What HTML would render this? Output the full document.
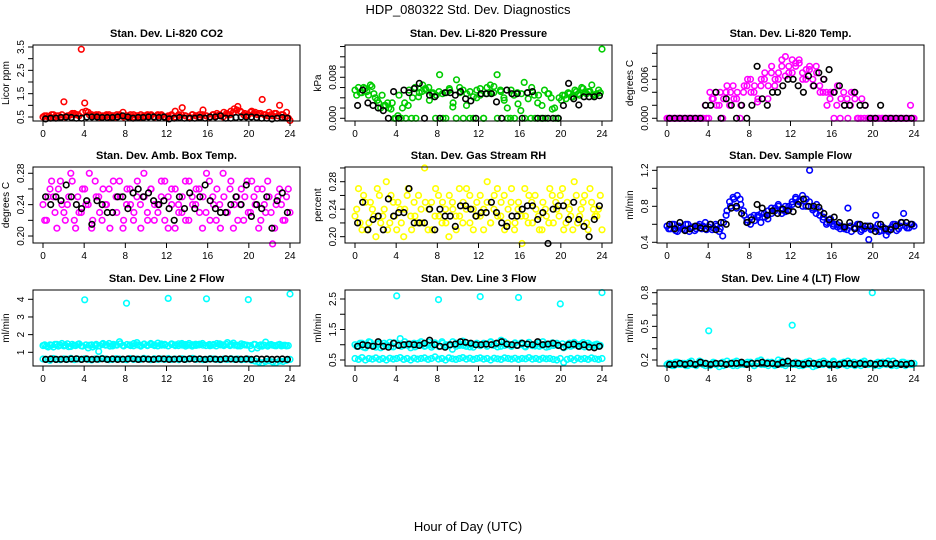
<!DOCTYPE html>
<html><head><meta charset="utf-8">
<style>
html,body{margin:0;padding:0;background:#fff;}
svg{display:block;font-family:"Liberation Sans",Arial,sans-serif;}
</style></head>
<body>
<svg id="chart" width="936" height="540" viewBox="0 0 936 540">
<text x="468" y="14" text-anchor="middle" font-size="13">HDP_080322  Std. Dev. Diagnostics</text>
<text x="468" y="531" text-anchor="middle" font-size="13">Hour of Day (UTC)</text>
<g id="panels"></g>
</svg>
<script>
// ---- data ----
const xTicks = [0,4,8,12,16,20,24];
const co2Red = [0.5,0.55,0.5,0.6,0.55,0.5,1.15,0.55,0.6,0.65,0.6,3.4,1.1,0.7,0.6,0.55,0.6,0.5,0.55,0.6,0.55,0.5,0.6,0.7,0.55,0.5,0.6,0.55,0.5,0.55,0.6,0.55,0.5,0.6,0.55,0.5,0.5,0.55,0.75,0.6,0.9,0.55,0.5,0.6,0.55,0.6,0.8,0.55,0.5,0.6,0.65,0.55,0.7,0.6,0.75,0.85,0.95,0.7,0.65,0.6,0.75,0.7,0.65,1.25,0.6,0.7,0.55,0.65,1.0,0.6,0.7,0.35];
const co2Red2 = [.55,.5,.6,.5,.55,.6,.5,.55,.65,.6,.55,.7,.75,.6,.55,.6,.5,.55,.6,.5,.55,.6,.55,.5,.55,.6,.5,.55,.6,.5,.55,.6,.5,.55,.6,.5,.55,.6,.5,.55,.6,.55,.5,.6,.55,.5,.6,.55,.5,.6,.55,.6,.5,.65,.6,.7,.8,.75,.6,.55,.7,.65,.6,.65,.6,.55,.6,.65,.55,.6,.5,.45];
const co2Black = [.42,.45,.45,.48,.5,.48,.45,.45,.5,.5,.5,.48,.48,.48,.5,.55,.5,.45,.48,.48,.5,.5,.48,.5,.42,.45,.48,.45,.45,.45,.48,.45,.5,.5,.55,.45,.45,.48,.5,.5,.5,.48,.45,.45,.42,.45,.48,.45];
const presGreen = [.0055,.006,.005,.0058,.0045,.0062,.004,.003,.0045,.0025,.002,.003,0,.0045,.002,0,.0055,.004,0,.005,.0065,.0055,.0035,.005,.0045,.0085,0,.005,.0055,.003,.0075,.005,0,.0048,.0052,0,.004,.0045,0,.006,.0065,.005,.0085,.0055,.004,.002,0,.0045,.005,.0015,.007,.005,0,.0045,.003,0,.0055,.0048,.004,.002,0,.0035,.0045,.005,.0042,.0055,.0048,.006,.005,.0052,.0065,.0046,.0055,.0135];
const presGreen2 = [.0045,.005,.006,.0052,.0065,.0048,.0035,.002,.0025,.003,.0018,0,.0005,0,.003,.0025,0,.006,.0042,.0052,.0058,.006,.0048,0,.0052,.0048,0,.0058,.0022,0,.006,.0055,.0025,0,.0042,.0055,.0058,0,.0048,.005,.0062,0,.0052,.0035,0,.0055,0,.0028,.0048,0,.0038,.006,0,.0045,.0025,0,.0048,.0018,0,.004,.0045,.0038,.0048,.0042,.0052,.0045,.0058,.0048,.0052,.0045,.0048,.005];
const presBlack = [.0025,.0055,.003,.0025,.002,.0015,0,.0052,0,.0055,.005,.0058,.0068,0,.0045,.0042,0,.005,.005,.0045,.0052,.0038,.0034,0,.0048,.0048,.0048,.0032,0,.0055,.0048,.0048,0,.005,.0052,0,0,0,0,0,.0025,.0068,.0038,.0026,.0042,.0042,.0042,.0044];
const tempMag = [0,0,0,0,0,0,0,0,0,0,0,.002,0,.003,.004,.002,0,.004,.002,.005,.003,0,.004,.005,.006,.004,.0025,.005,.006,.003,.007,.005,.006,.008,.0065,.007,.009,.008,.0085,.006,.0075,.008,.005,.007,.004,.006,.002,.004,0,.005,.003,.002,0,.004,.003,0,.003,.002,0,0,0,0,0,0,0,0,0,0,0,0,.002,0];
const tempMag2 = [0,0,0,0,0,0,0,0,0,0,0,0,.004,.003,.002,.004,.003,.005,.004,.003,.004,.002,.005,.006,.004,.005,.003,.006,.007,.005,.008,.006,.007,.009,.0095,.008,.007,.0085,.009,.007,.006,.0075,.006,.008,.005,.004,.004,.003,.004,.002,0,.004,.003,.002,.004,0,0,0,0,0,0,0,0,0,0,0,0,0,0,0,0,0];
const tempBlack = [0,0,0,0,0,0,0,.002,.002,.004,0,.003,.002,0,.002,0,.002,.008,.003,.002,.004,.004,.005,.006,.006,.005,.004,.0065,.005,.007,.006,.0075,.004,.005,.002,.002,.004,.002,.002,0,0,.002,0,0,0,0,0,0];
const ambMag = [.24,.22,.26,.25,.21,.27,.23,.24,.28,.22,.25,.23,.26,.24,.21,.27,.25,.22,.24,.26,.23,.25,.27,.21,.24,.26,.22,.25,.24,.28,.23,.26,.22,.24,.25,.27,.21,.24,.26,.23,.25,.22,.27,.24,.26,.23,.25,.28,.22,.24,.26,.21,.25,.23,.27,.24,.22,.26,.25,.23,.27,.24,.21,.26,.23,.25,.19,.24,.26,.22,.25,.23];
const ambMag2 = [.22,.25,.27,.23,.26,.24,.22,.25,.27,.21,.23,.26,.24,.28,.22,.25,.23,.26,.24,.21,.27,.23,.25,.22,.26,.24,.23,.27,.21,.25,.22,.26,.24,.23,.27,.22,.25,.26,.21,.24,.23,.27,.22,.25,.24,.26,.21,.23,.27,.25,.22,.24,.28,.23,.26,.21,.25,.24,.22,.27,.23,.25,.26,.22,.24,.27,.23,.21,.25,.24,.22,.26];
const ambBlack = [.25,.24,.25,.245,.265,.25,.24,.235,.245,.215,.245,.24,.23,.23,.25,.25,.235,.255,.26,.25,.255,.245,.24,.245,.235,.22,.25,.235,.255,.235,.25,.265,.245,.235,.23,.23,.24,.25,.24,.265,.225,.24,.235,.25,.21,.245,.255,.23];
const rhYellow = [.23,.27,.21,.25,.22,.24,.2,.26,.23,.28,.22,.25,.21,.24,.2,.26,.23,.25,.22,.24,.3,.21,.25,.23,.26,.22,.24,.2,.25,.23,.27,.22,.24,.26,.21,.25,.23,.24,.28,.22,.26,.23,.25,.21,.24,.27,.22,.25,.19,.23,.26,.22,.24,.21,.25,.23,.27,.22,.24,.26,.21,.25,.23,.28,.22,.24,.26,.21,.25,.23,.24,.21];
const rhYellow2 = [.24,.22,.26,.21,.25,.23,.27,.22,.24,.21,.26,.23,.25,.22,.24,.27,.21,.23,.26,.22,.25,.24,.21,.27,.23,.25,.22,.26,.24,.21,.23,.25,.27,.22,.24,.23,.26,.21,.25,.22,.24,.27,.23,.26,.22,.25,.21,.24,.23,.27,.22,.25,.26,.23,.21,.24,.22,.26,.25,.23,.27,.22,.24,.21,.26,.23,.25,.22,.27,.24,.23,.26];
const rhBlack = [.22,.25,.21,.225,.23,.21,.255,.23,.235,.235,.27,.22,.22,.22,.24,.21,.24,.23,.23,.215,.245,.245,.24,.23,.235,.235,.25,.235,.22,.215,.23,.23,.24,.245,.245,.225,.235,.19,.24,.245,.245,.225,.25,.225,.215,.2,.225,.245];
const flowBlue = [.58,.55,.6,.52,.57,.54,.6,.56,.53,.58,.55,.62,.57,.54,.6,.52,.47,.7,.85,.9,.78,.88,.75,.65,.6,.7,.68,.62,.72,.66,.78,.75,.82,.72,.8,.76,.85,.9,.85,.8,.88,1.2,.78,.82,.75,.68,.62,.66,.6,.57,.58,.55,.78,.52,.56,.6,.54,.58,.43,.55,.7,.52,.57,.48,.55,.6,.53,.58,.72,.56,.6,.58];
const flowBlue2 = [.55,.6,.53,.58,.55,.6,.52,.57,.55,.6,.58,.54,.6,.56,.58,.55,.62,.75,.8,.88,.92,.82,.7,.62,.68,.64,.7,.72,.68,.75,.72,.78,.8,.76,.74,.8,.82,.88,.86,.92,.8,.85,.76,.72,.7,.65,.6,.62,.58,.6,.55,.57,.54,.58,.56,.6,.52,.55,.58,.54,.56,.6,.53,.55,.52,.57,.6,.55,.62,.58,.56,.6];
const flowBlack = [.6,.55,.62,.53,.55,.58,.56,.55,.6,.54,.62,.6,.78,.8,.72,.62,.65,.82,.78,.7,.75,.72,.77,.75,.74,.82,.88,.8,.8,.79,.72,.65,.68,.62,.57,.62,.55,.6,.58,.58,.52,.6,.55,.54,.58,.62,.62,.6];
const l2High = [1.38,1.35,1.42,1.3,1.45,1.4,1.36,1.48,1.33,1.4,1.44,1.37,3.97,1.25,1.42,1.38,1.05,1.45,1.4,1.5,1.36,1.43,1.6,1.39,3.78,1.42,1.37,1.55,1.4,1.45,1.38,1.5,1.42,1.36,1.47,1.4,4.05,1.44,1.38,1.48,1.41,1.35,1.5,1.43,1.39,1.46,1.4,4.03,1.37,1.44,1.5,1.42,1.38,1.55,1.45,1.4,1.36,1.48,1.42,3.98,1.2,1.44,1.38,1.35,1.58,1.42,1.4,1.37,1.45,1.39,1.36,4.3];
const l2High2 = [1.42,1.3,1.4,1.45,1.35,1.5,1.4,1.32,1.45,1.38,1.48,1.35,1.42,1.4,1.3,1.45,1.38,1.5,1.42,1.35,1.45,1.4,1.48,1.36,1.44,1.38,1.5,1.42,1.35,1.47,1.4,1.44,1.38,1.52,1.4,1.45,1.36,1.48,1.42,1.38,1.5,1.44,1.4,1.35,1.46,1.42,1.5,1.38,1.44,1.4,1.36,1.48,1.42,1.45,1.38,1.52,1.4,1.36,1.44,1.4,1.38,1.45,1.25,1.42,1.4,1.35,1.44,1.38,1.42,1.36,1.4,1.38];
const l2Low = [.62,.6,.55,.65,.6,.58,.63,.6,.66,.58,.62,.6,.64,.6,.57,.63,.6,.66,.62,.58,.6,.64,.62,.6,.58,.65,.6,.62,.6,.66,.62,.58,.64,.6,.62,.6,.65,.6,.62,.58,.64,.6,.62,.66,.6,.62,.58,.6,.64,.62,.6,.58,.62,.6,.64,.6,.62,.58,.6,.62,.55,.5,.45,.4,.48,.52,.45,.42,.5,.48,.55,.6];
const l2Black = [.6,.62,.6,.61,.6,.62,.63,.6,.62,.6,.61,.63,.6,.62,.6,.61,.62,.63,.6,.62,.61,.6,.63,.62,.6,.61,.62,.6,.63,.61,.62,.6,.62,.61,.6,.63,.62,.6,.61,.62,.6,.63,.61,.62,.6,.61,.62,.6];
const l3High = [1.0,.95,1.05,.9,1.1,.98,.92,1.05,.95,1.0,1.08,.93,2.6,1.2,.98,1.02,.9,1.05,.97,1.1,.95,1.0,.92,1.06,2.48,1.1,.95,1.0,.85,1.05,.98,1.12,.95,1.02,.92,1.0,2.58,1.05,.97,1.1,1.0,.93,1.15,.98,1.02,.95,1.06,2.55,1.0,.93,1.08,.97,1.0,.95,1.1,.92,1.02,.98,1.05,2.34,.9,1.0,.95,1.08,.97,1.02,.93,1.05,.98,1.0,.95,2.71];
const l3High2 = [.95,1.05,.92,1.0,1.08,.95,1.02,.9,1.05,.98,.94,1.06,1.0,.95,1.1,.98,1.02,.93,1.05,1.0,.96,1.08,.98,1.02,.94,1.05,1.0,.97,1.1,.95,1.02,.98,1.06,.93,1.0,1.05,.97,1.02,.95,1.08,.98,1.03,.95,1.1,1.0,.96,1.04,.98,1.06,.95,1.02,1.0,.96,1.05,.98,1.02,.94,1.06,1.0,.97,1.03,.95,1.05,.98,1.02,.95,1.07,.98,1.0,.96,1.02,.98];
const l3Low = [.55,.52,.58,.5,.55,.53,.57,.52,.55,.5,.56,.53,.55,.58,.52,.55,.5,.56,.53,.55,.57,.52,.55,.6,.53,.55,.5,.57,.54,.52,.55,.58,.53,.56,.52,.55,.57,.53,.55,.5,.56,.54,.52,.57,.55,.53,.56,.52,.55,.54,.58,.53,.55,.52,.56,.54,.55,.52,.5,.55,.42,.52,.55,.5,.56,.53,.55,.52,.57,.54,.52,.55];
const l3Black = [.95,1.0,.98,.95,1.1,.95,.92,1.05,.98,1.0,1.02,1.0,.98,1.05,1.15,1.0,.95,.92,1.0,1.02,1.1,1.08,1.05,1.0,1.0,1.02,1.0,1.05,1.1,1.02,1.0,.98,1.05,1.02,1.0,1.1,1.0,1.02,1.05,.98,.92,1.0,1.02,.95,1.0,.92,.9,.95];
const l4Cyan = [.16,.17,.15,.18,.16,.17,.15,.19,.16,.17,.18,.15,.46,.17,.16,.14,.18,.16,.17,.15,.19,.16,.17,.16,.18,.15,.17,.2,.16,.18,.17,.15,.2,.16,.17,.18,.51,.16,.17,.15,.18,.16,.14,.17,.16,.19,.17,.16,.18,.15,.17,.16,.19,.17,.15,.16,.18,.17,.16,.8,.17,.15,.18,.16,.17,.19,.15,.16,.18,.17,.16,.17];
const l4Cyan2 = [.17,.15,.18,.16,.17,.15,.18,.16,.15,.19,.16,.17,.15,.18,.16,.17,.15,.19,.16,.18,.15,.17,.16,.18,.17,.15,.19,.16,.17,.15,.18,.16,.17,.19,.15,.17,.16,.18,.15,.17,.16,.19,.17,.15,.18,.16,.17,.15,.19,.16,.17,.18,.15,.16,.18,.17,.15,.19,.16,.17,.15,.18,.16,.17,.19,.15,.17,.16,.18,.15,.17,.16];
const l4Black = [.16,.16,.17,.16,.17,.16,.18,.17,.16,.17,.17,.16,.17,.17,.18,.16,.17,.17,.18,.17,.17,.16,.18,.19,.17,.17,.16,.17,.17,.16,.17,.16,.16,.16,.17,.17,.16,.17,.16,.17,.16,.17,.17,.16,.17,.16,.16,.17];
const yTicks = [[0.5,1,1.5,2,2.5,3,3.5],[0,.002,.004,.006,.008,.010,.012,.014],[0,.002,.004,.006,.008,.010],[.20,.22,.24,.26,.28],[.20,.22,.24,.26,.28,.30],[0.4,0.6,0.8,1.0,1.2],[1,2,3,4],[0.5,1,1.5,2,2.5],[0.2,0.3,0.4,0.5,0.6,0.7,0.8]];
const yLabels = [["0.5","1.5","2.5","3.5"],["0.000","0.008"],["0.000","0.006"],["0.20","0.24","0.28"],["0.20","0.24","0.28"],["0.4","0.8","1.2"],["1","2","3","4"],["0.5","1.5","2.5"],["0.2","0.5","0.8"]];
const yLabelVals = [[0.5,1.5,2.5,3.5],[0,.008],[0,.006],[.20,.24,.28],[.20,.24,.28],[0.4,0.8,1.2],[1,2,3,4],[0.5,1.5,2.5],[0.2,0.5,0.8]];
const titles = ["Stan. Dev. Li-820 CO2","Stan. Dev. Li-820 Pressure","Stan. Dev. Li-820 Temp.","Stan. Dev. Amb. Box Temp.","Stan. Dev. Gas Stream RH","Stan. Dev. Sample Flow","Stan. Dev. Line 2 Flow","Stan. Dev. Line 3 Flow","Stan. Dev. Line 4 (LT) Flow"];
const yTitles = ["Licor ppm","kPa","degrees C","degrees C","percent","ml/min","ml/min","ml/min","ml/min"];
const series = [
 [[co2Red,"#ff0000",0],[co2Red2,"#ff0000",1],[co2Black,"#000",1]],
 [[presGreen,"#00cc00",0],[presGreen2,"#00cc00",1],[presBlack,"#000",1]],
 [[tempMag,"#ff00ff",0],[tempMag2,"#ff00ff",1],[tempBlack,"#000",1]],
 [[ambMag,"#ff00ff",0],[ambMag2,"#ff00ff",1],[ambBlack,"#000",1]],
 [[rhYellow,"#ffff00",0],[rhYellow2,"#ffff00",1],[rhBlack,"#000",1]],
 [[flowBlue,"#0000ff",0],[flowBlue2,"#0000ff",1],[flowBlack,"#000",1]],
 [[l2High,"#00ffff",0],[l2High2,"#00ffff",1],[l2Low,"#00ffff",0],[l2Black,"#000",1]],
 [[l3High,"#00ffff",0],[l3High2,"#00ffff",1],[l3Low,"#00ffff",0],[l3Black,"#000",1]],
 [[l4Cyan,"#00ffff",0],[l4Cyan2,"#00ffff",1],[l4Black,"#000",1]]
];
// ---- layout ----
const yDomains = [[0.329,3.586],[-0.00053,0.0143],[-0.00042,0.01128],[0.1911,0.288],[0.1908,0.3014],[0.392,1.237],[0.225,4.526],[0.303,2.795],[0.1465,0.824]];
const colLeft = [33,345,657], rowTop = [45,167,290], W = 267, H = 76;
const NS = "http://www.w3.org/2000/svg";
const root = document.getElementById("panels");
function mk(tag, attrs, parent){const e=document.createElementNS(NS,tag);for(const k in attrs)e.setAttribute(k,attrs[k]);parent.appendChild(e);return e;}
for(let p=0;p<9;p++){
  const L=colLeft[p%3], T=rowTop[Math.floor(p/3)], B=T+H, R=L+W;
  const g=mk("g",{},root);
  
  
  const xS=h=>L+10+h*(247/24);
  const [d0,d1]=yDomains[p];
  const yS=v=>B-(v-d0)/(d1-d0)*H;
  const t=mk("text",{x:(L+R)/2,y:T-8,"text-anchor":"middle","font-size":"11","font-weight":"bold"},g);
  t.textContent=titles[p];
  
  
  series[p].forEach(([arr,col,half])=>{
    const black = col==="#000";
    const sg=mk("g",{fill:"none",stroke:col,"stroke-width":"1.6"},g);
    
    
    arr.forEach((v,i)=>{
      const h = half ? (i+0.5)*24/arr.length : i*24/(arr.length-1);
      const c=mk("circle",{cx:xS(h).toFixed(1),cy:yS(v).toFixed(1),r:"2.8"},sg);
      
      
    });
  });
  const box=mk("rect",{x:L,y:T,width:W,height:H,fill:"none",stroke:"#000","stroke-width":"1"},g);
  
  
  xTicks.forEach(h=>{
    mk("line",{x1:xS(h),x2:xS(h),y1:B,y2:B+5,stroke:"#000"},g);
    const lt=mk("text",{x:xS(h),y:B+16,"text-anchor":"middle","font-size":"10"},g);
    lt.textContent=h;
    
    
  });
  yTicks[p].forEach(v=>{ const y=yS(v); if(y>=T-1&&y<=B+1) mk("line",{x1:L-5,x2:L,y1:y,y2:y,stroke:"#000"},g); });
  yLabelVals[p].forEach((v,i)=>{
    const y=yS(v), x=L-9;
    const lt=mk("text",{x:x,y:y,"text-anchor":"middle","font-size":"10",transform:`rotate(-90 ${x} ${y})`},g);
    lt.textContent=yLabels[p][i];
    
    
  });
  const yx=L-24, yy=(T+B)/2;
  const yt=mk("text",{x:yx,y:yy,"text-anchor":"middle","font-size":"10",transform:`rotate(-90 ${yx} ${yy})`},g);
  yt.textContent=yTitles[p];
  
  
}
</script>
</body></html>
